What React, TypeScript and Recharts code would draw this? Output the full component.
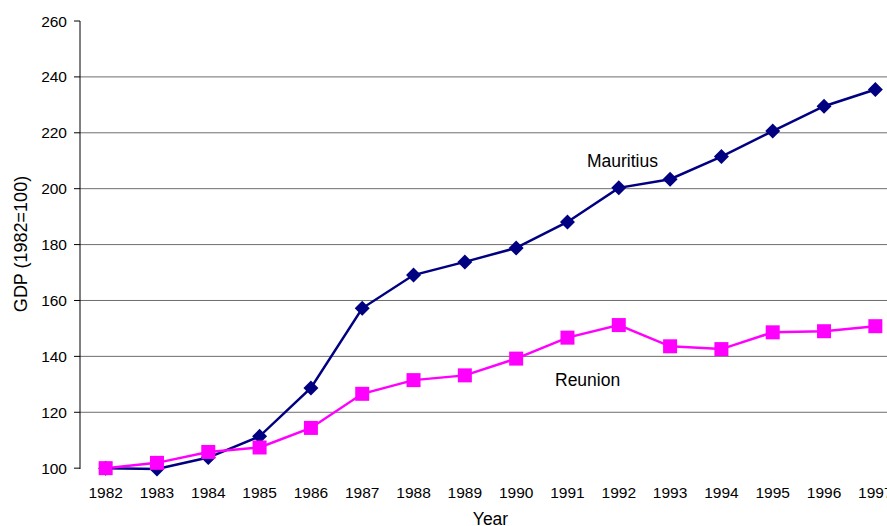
import React from "react";
import {
  LineChart,
  Line,
  XAxis,
  YAxis,
  ReferenceLine,
} from "recharts";

const years = [1982, 1983, 1984, 1985, 1986, 1987, 1988, 1989, 1990, 1991, 1992, 1993, 1994, 1995, 1996, 1997];
const mauritius = [100, 99.7, 103.8, 111.4, 128.7, 157.2, 169.1, 173.8, 178.8, 188.1, 200.3, 203.4, 211.5, 220.6, 229.5, 235.5];
const reunion = [100, 101.9, 105.8, 107.4, 114.4, 126.6, 131.5, 133.2, 139.2, 146.7, 151.2, 143.6, 142.6, 148.6, 149.0, 150.8];
const yTicks = [100, 120, 140, 160, 180, 200, 220, 240, 260];
const gridValues = [120, 140, 160, 180, 200, 220, 240];
// tick marks sit between the years, like the old spreadsheet chart
const yearEdges = [1981.5, ...years.map((y) => y + 0.5)];

const data = years.map((year, i) => ({
  year,
  mauritius: mauritius[i],
  reunion: reunion[i],
}));

const FONT = "'Liberation Sans', Arial, sans-serif";

const Diamond = (props: any) => {
  const { cx, cy } = props;
  if (cx == null || cy == null) return null;
  const r = 7.5;
  return (
    <polygon
      points={`${cx},${cy - r} ${cx + r},${cy} ${cx},${cy + r} ${cx - r},${cy}`}
      fill="#000080"
    />
  );
};

const Square = (props: any) => {
  const { cx, cy } = props;
  if (cx == null || cy == null) return null;
  return <rect x={cx - 7} y={cy - 7} width={14} height={14} fill="#FF00FF" />;
};

const YLabel = (props: any) => {
  const vb = props.viewBox || {};
  const x = (vb.x || 0) + 20.5;
  const y = (vb.y || 0) + (vb.height || 0) / 2 - 1;
  return (
    <text
      x={x}
      y={y}
      transform={`rotate(-90, ${x}, ${y})`}
      textAnchor="middle"
      dominantBaseline="central"
      fontSize={18}
      fill="#000"
      fontFamily={FONT}
    >
      GDP (1982=100)
    </text>
  );
};

const noteStyle: React.CSSProperties = {
  position: "absolute",
  fontFamily: FONT,
  fontSize: 17.5,
  lineHeight: 1,
  color: "#000",
  whiteSpace: "nowrap",
};

export default function App() {
  return (
    <div
      style={{
        position: "fixed",
        left: 0,
        top: 0,
        width: 887,
        height: 526,
        overflow: "hidden",
        background: "#fff",
      }}
    >
      <LineChart
        width={930}
        height={560}
        data={data}
        margin={{ top: 21, right: 29, left: 0, bottom: 51 }}
      >
        <XAxis
          xAxisId="edges"
          dataKey="year"
          type="number"
          domain={[1981.5, 1997.5]}
          ticks={yearEdges}
          tickFormatter={() => ""}
          tickSize={5}
          height={0}
          stroke="#000"
          axisLine={{ stroke: "#000", strokeWidth: 1 }}
          tickLine={{ stroke: "#000" }}
          interval={0}
        />
        <XAxis
          xAxisId="years"
          dataKey="year"
          type="number"
          domain={[1981.5, 1997.5]}
          ticks={years}
          interval={0}
          axisLine={false}
          tickLine={false}
          tickSize={6}
          tickMargin={12}
          height={40}
          tick={{ fill: "#000", fontSize: 15.5, fontFamily: FONT }}
          label={{
            value: "Year",
            position: "bottom",
            offset: 4,
            fill: "#000",
            fontSize: 17.5,
            fontFamily: FONT,
          }}
        />
        <YAxis
          domain={[100, 260]}
          ticks={yTicks}
          interval={0}
          width={80}
          tickSize={6}
          tickMargin={7}
          axisLine={{ stroke: "#000" }}
          tickLine={{ stroke: "#000" }}
          tick={{ fill: "#000", fontSize: 15.5, fontFamily: FONT }}
          label={<YLabel />}
        />
        {gridValues.map((v) => (
          <ReferenceLine
            key={v}
            y={v}
            xAxisId="years"
            stroke="#6e6e6e"
            strokeWidth={1}
          />
        ))}
        <Line
          xAxisId="years"
          type="linear"
          dataKey="mauritius"
          stroke="#000080"
          strokeWidth={2.5}
          dot={<Diamond />}
          activeDot={false}
          isAnimationActive={false}
        />
        <Line
          xAxisId="years"
          type="linear"
          dataKey="reunion"
          stroke="#FF00FF"
          strokeWidth={2.5}
          dot={<Square />}
          activeDot={false}
          isAnimationActive={false}
        />
      </LineChart>
      <div style={{ ...noteStyle, left: 587, top: 152.5 }}>Mauritius</div>
      <div style={{ ...noteStyle, left: 555, top: 372 }}>Reunion</div>
    </div>
  );
}
